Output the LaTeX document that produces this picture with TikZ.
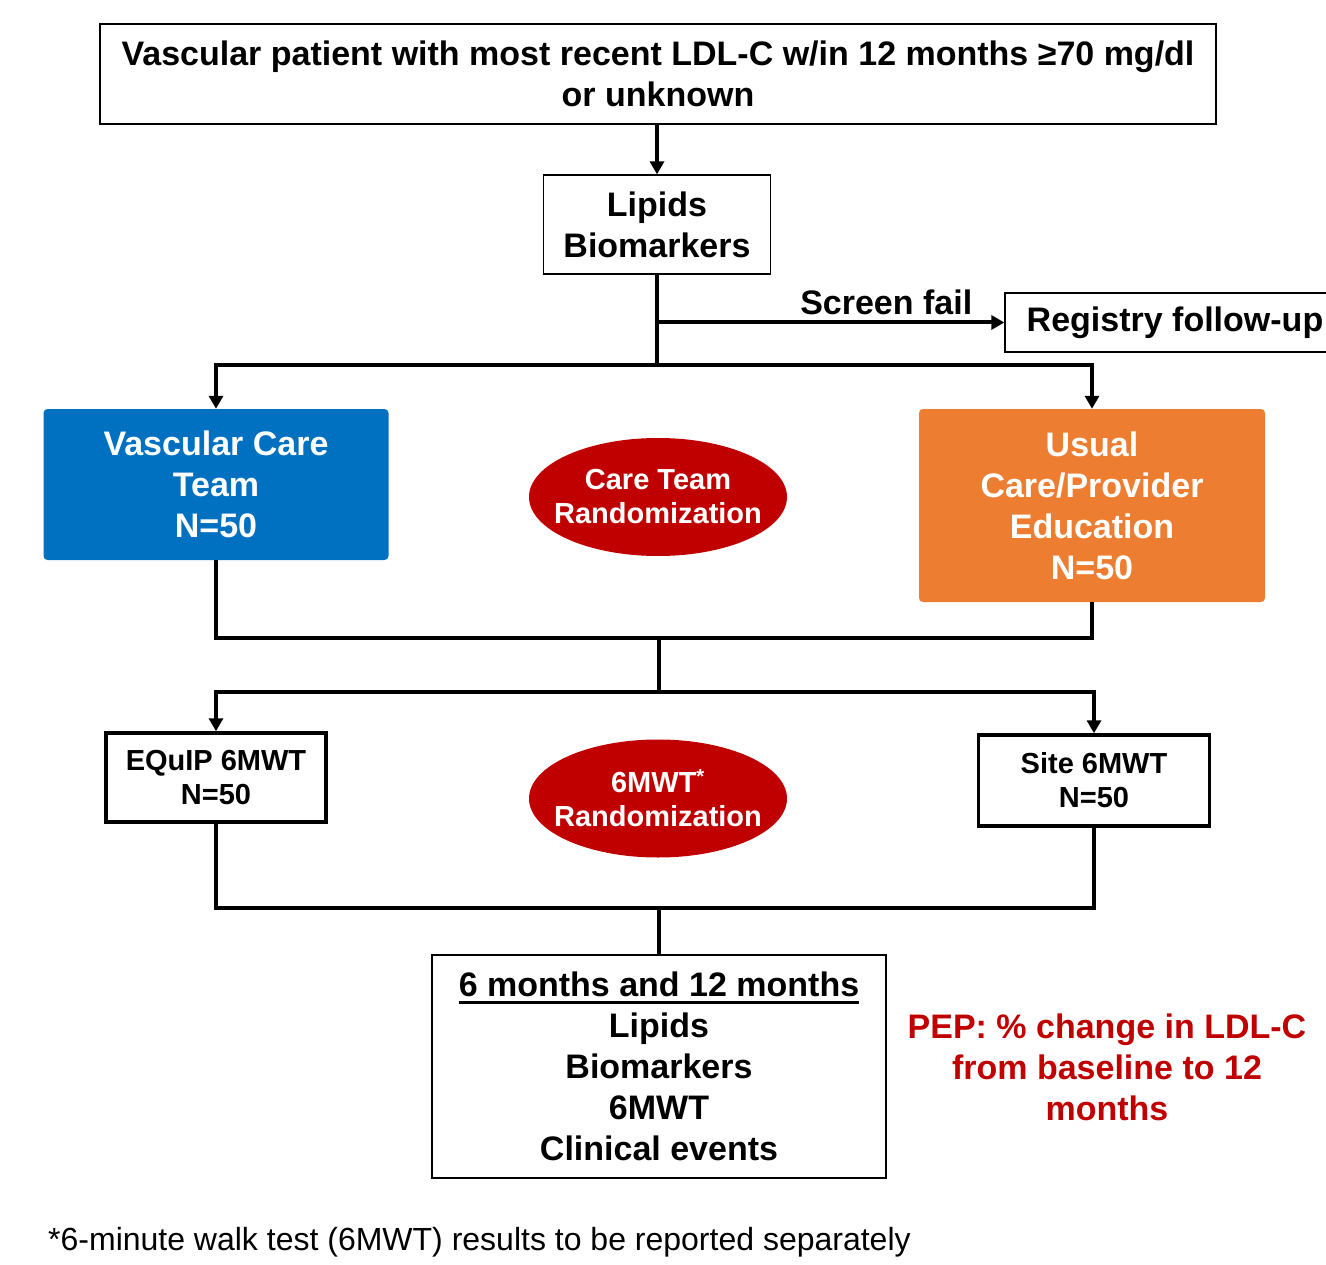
\documentclass[tikz,border=0pt]{standalone}
\usepackage{fontspec}
\setmainfont{Liberation Sans}
\usetikzlibrary{arrows.meta,shapes.geometric}
\definecolor{careblue}{HTML}{0070C0}
\definecolor{usualorange}{HTML}{ED7D31}
\definecolor{randred}{HTML}{C00000}
\newcommand{\flowUnderline}[1]{\setbox0\hbox{#1}\rlap{\rule[-7pt]{\wd0}{3pt}}\box0}

\begin{document}
\begin{tikzpicture}[x=1pt,y=-1pt,
  bigtext/.style={font={\fontsize{34}{41}\selectfont\bfseries}, align=center},
  smalltext/.style={font={\fontsize{29}{34}\selectfont\bfseries}, align=center},
  thinbox/.style={draw, line width=1.3pt, inner sep=0pt, bigtext},
  thickbox/.style={draw, line width=3.5pt, inner sep=0pt, smalltext},
  armbox/.style={rounded corners=4pt, inner sep=0pt, text=white, bigtext},
  randoval/.style={ellipse, fill=randred, text=white, inner xsep=-14pt, inner ysep=6pt, minimum width=258pt, minimum height=118pt, smalltext},
  link/.style={line width=4pt},
  linkarrow/.style={line width=4pt, -{Triangle[width=14pt,length=13pt]}}]
\useasboundingbox (0,0) rectangle (1326,1265);
\node[thinbox, minimum width=1116pt, minimum height=100pt] (patient) at (658,74) {Vascular patient with most recent LDL-C w/in 12 months ≥70 mg/dl\\or unknown};
\node[thinbox, minimum width=227pt, minimum height=99pt] (lipids) at (657,224.5) {Lipids\\Biomarkers};
\node[thinbox, minimum width=340pt, minimum height=59pt] (registry) at (1175,322.5) {Registry follow-up};
\node[armbox, fill=careblue, minimum width=345pt, minimum height=151pt] (vascular) at (216,484.5) {Vascular Care\\Team\\N=50};
\node[armbox, fill=usualorange, minimum width=346pt, minimum height=193pt] (usual) at (1092,505.5) {Usual\\Care/Provider\\Education\\N=50};
\node[randoval] (careteam) at (658,497) {Care Team\\Randomization};
\node[thickbox, minimum width=220pt, minimum height=89pt] (equip) at (216,777.5) {EQuIP 6MWT\\N=50};
\node[thickbox, minimum width=231pt, minimum height=91pt] (site) at (1094,780.5) {Site 6MWT\\N=50};
\node[randoval] (sixmwt) at (658,798.5) {6MWT\textsuperscript{*}\\Randomization};
\node[thinbox, minimum width=454pt, minimum height=223pt] (followup) at (659,1066.5) {\flowUnderline{6 months and 12 months}\\Lipids\\Biomarkers\\6MWT\\Clinical events};
\node[bigtext, text=randred] (pep) at (1107,1067) {PEP: \% change in LDL-C\\from baseline to 12\\months};
\node[font={\fontsize{32}{38}\selectfont}, anchor=west, inner sep=0pt] (footnote) at (48,1242) {*6-minute walk test (6MWT) results to be reported separately};
\coordinate (split1) at (657,365);
\coordinate (join1) at (659,638);
\coordinate (split2) at (659,692);
\coordinate (join2) at (659,908);
\draw[linkarrow] (patient.south -| lipids) -- (lipids.north);
\draw[link] (lipids.south) -- (split1);
\draw[linkarrow] (lipids.south |- registry.west) -- node[above=2pt, pos=0.66, bigtext] (screenfail) {Screen fail} (registry.west);
\draw[linkarrow] (split1) -| (vascular.north);
\draw[linkarrow] (split1) -| (usual.north);
\draw[link] (vascular.south) |- (join1) -| (usual.south);
\draw[link] (join1) -- (split2);
\draw[linkarrow] (split2) -| (equip.north);
\draw[linkarrow] (split2) -| (site.north);
\draw[link] (equip.south) |- (join2) -| (site.south);
\draw[link] (join2) -- (followup.north);
\end{tikzpicture}
\end{document}
